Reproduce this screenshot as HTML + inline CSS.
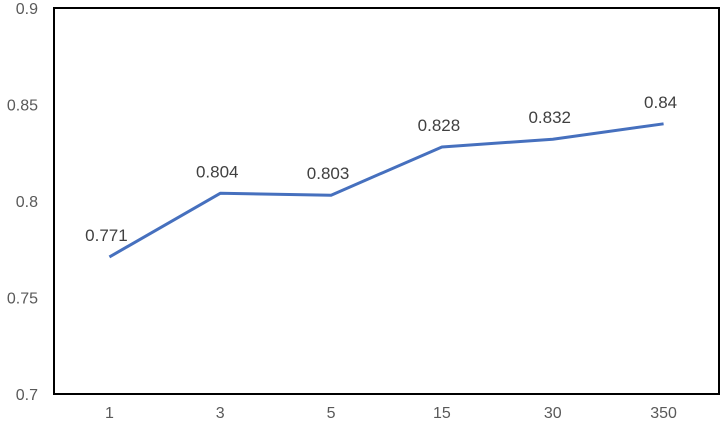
<!DOCTYPE html>
<html><head><meta charset="utf-8"><style>
body{margin:0;background:#fff;}
svg{display:block;font-family:"Liberation Sans",sans-serif;}
</style></head><body>
<svg id="chart" width="723" height="425" xmlns="http://www.w3.org/2000/svg">
<rect x="54" y="8" width="665" height="386" fill="#fff" stroke="#000" stroke-width="2"/>
<g id="yt"></g><g id="xt"></g><g id="series"></g>
</svg>
<script>
const categories=["1","3","5","15","30","350"];
const values=[0.771,0.804,0.803,0.828,0.832,0.84];
const yTicks=[0.7,0.75,0.8,0.85,0.9];
const yTickLabels=["0.7","0.75","0.8","0.85","0.9"];
const L=54,R=719,T=8,B=394,ymin=0.7,ymax=0.9;
const ns="http://www.w3.org/2000/svg";
const xs=i=>L+(R-L)/categories.length*(i+0.5);
const ys=v=>B-(v-ymin)/(ymax-ymin)*(B-T);
function mk(t,a,p,txt){const e=document.createElementNS(ns,t);for(const k in a)e.setAttribute(k,a[k]);if(txt!==undefined)e.textContent=txt;document.getElementById(p).appendChild(e);return e;}
yTicks.forEach((v,i)=>{
 const e=mk("text",{x:38,y:ys(v)+6,"text-anchor":"end","font-size":"16",fill:"#595959"},"yt",yTickLabels[i]);
 
 
});
categories.forEach((c,i)=>{
 const e=mk("text",{x:xs(i),y:418,"text-anchor":"middle","font-size":"16",fill:"#595959"},"xt",c);
 
 
});
const pl=mk("polyline",{points:values.map((v,i)=>xs(i)+","+ys(v)).join(" "),fill:"none",stroke:"#4670BE","stroke-width":"3","stroke-linejoin":"round"},"series");


values.forEach((v,i)=>{
 const e=mk("text",{x:xs(i)-3,y:ys(v)-16,"text-anchor":"middle","font-size":"17",fill:"#404040"},"series",String(v));
 
 
});
</script>
</body></html>
